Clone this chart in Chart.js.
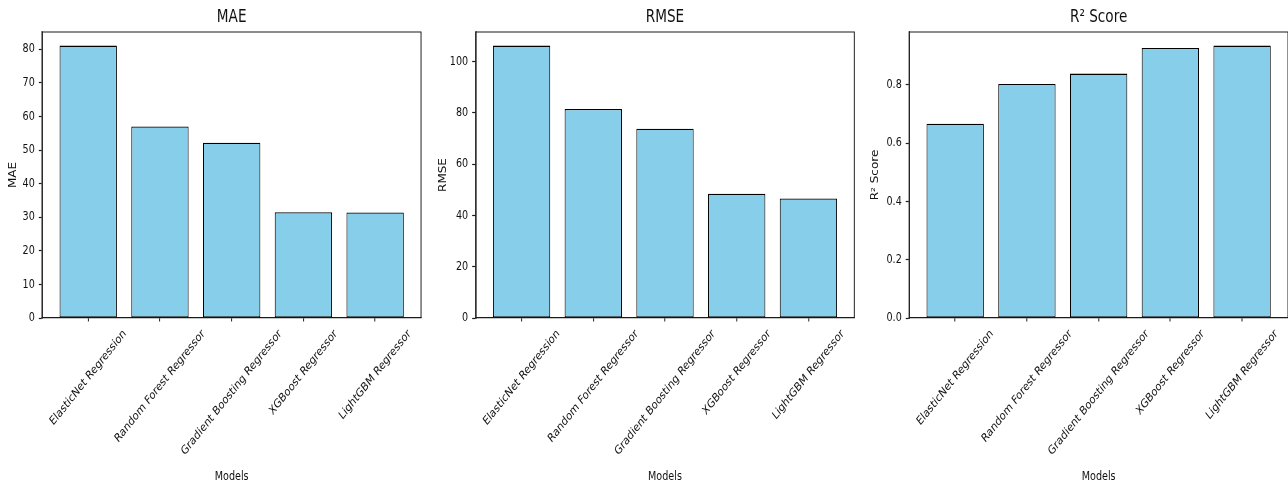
<!DOCTYPE html>
<html>
<head>
<meta charset="utf-8">
<script src="https://cdn.jsdelivr.net/npm/chart.js@4.4.1/dist/chart.umd.min.js"></script>
<style>
	html, body { margin: 0; padding: 0; background: #fff; overflow: hidden; width: 1288px; height: 486px; }
	canvas { position: absolute; top: 0; }
</style>
</head>
<body>
<!-- each chart lays out on a 540px wide logical canvas and is drawn squeezed into 432px, like the reference -->
<canvas id="c_mae" width="540" height="486" style="left:0px;width:432px;height:486px"></canvas>
<canvas id="c_rmse" width="540" height="486" style="left:430px;width:432px;height:486px"></canvas>
<canvas id="c_r2" width="540" height="486" style="left:860px;width:432px;height:486px"></canvas>
<script>

const models = [ "ElasticNet Regression", "Random Forest Regressor", "Gradient Boosting Regressor", "XGBoost Regressor", "LightGBM Regressor" ]
const maeValues = [ 81.1, 57.0, 52.2, 31.5, 31.4 ]
const rmseValues = [ 106.2, 81.5, 73.8, 48.4, 46.6 ]
const r2Values = [ 0.667, 0.803, 0.839, 0.927, 0.935 ]
const maeTicks = [ 0, 10, 20, 30, 40, 50, 60, 70, 80 ]
const rmseTicks = [ 0, 20, 40, 60, 80, 100 ]
const r2Ticks = [ 0, 0.2, 0.4, 0.6, 0.8 ]

const FONT = "'DejaVu Sans', sans-serif"
const INK = "#111"
const EDGE = "#1a1a1a"
const LABEL_TOP = 327
const SQUEEZE = 0.8

// draw everything horizontally squeezed (the reference image is compressed sideways)
const squeeze = {
	id: "squeeze",
	afterInit ( chart ) {
		let c = chart.canvas
		c.width = Math.round( chart.width * SQUEEZE )
		c.height = chart.height
		chart.ctx.setTransform( SQUEEZE, 0, 0, 1, 0, 0 )
	}
}

// top/right spines plus the rotated model names (centred on the tick, like matplotlib)
const spinesAndLabels = {
	id: "spinesAndLabels",
	afterDraw ( chart ) {
		let ctx = chart.ctx
		let a = chart.chartArea
		let x = chart.scales.x
		ctx.save()
		ctx.strokeStyle = EDGE
		ctx.lineWidth = 1.2
		ctx.beginPath()
		ctx.moveTo( a.left, a.bottom )
		ctx.lineTo( a.left, a.top )
		ctx.lineTo( a.right, a.top )
		ctx.lineTo( a.right, a.bottom )
		ctx.stroke()

		ctx.font = "12px " + FONT
		ctx.fillStyle = INK
		ctx.textAlign = "center"
		ctx.textBaseline = "middle"
		let ang = Math.PI / 4
		let h = 12 * 1.17
		models.forEach( function ( name, i ) {
			let w = ctx.measureText( name ).width
			let boxH = w * Math.sin( ang ) + h * Math.cos( ang )
			ctx.save()
			ctx.translate( x.getPixelForValue( i ), LABEL_TOP + boxH / 2 )
			ctx.rotate( -ang )
			ctx.fillText( name, 0, 0 )
			ctx.restore()
		} )
		ctx.restore()
	}
}

function makePanel ( canvasId, title, values, yTicks, tickFormat, plotLeft, padRight, yTitlePad ) {
	let ymax = Math.max.apply( null, values ) * 1.05
	let points = values.map( ( v, i ) => ( { x: i, y: v } ) )

	return new Chart( document.getElementById( canvasId ), {
		type: "bar",
		data: {
			datasets: [ {
				data: points,
				backgroundColor: "#87ceeb",
				borderColor: "#000",
				borderWidth: 1.3,
				borderSkipped: false,
				categoryPercentage: 1,
				barPercentage: 0.8
			} ]
		},
		options: {
			responsive: false,
			animation: false,
			events: [],
			layout: { padding: { left: 0, right: padRight, top: 0, bottom: 0 } },
			plugins: {
				legend: { display: false },
				tooltip: { enabled: false },
				title: {
					display: true,
					text: title,
					fullSize: false,
					color: INK,
					font: { family: FONT, size: 17, weight: "normal" },
					padding: { top: 7.3, bottom: 4.3 }
				}
			},
			scales: {
				x: {
					type: "linear",
					min: -0.64,
					max: 4.64,
					offset: false,
					afterBuildTicks: function ( s ) { s.ticks = models.map( ( m, i ) => ( { value: i } ) ) },
					afterFit: function ( s ) { s.height = 168 },
					ticks: { display: false },
					grid: { offset: false, drawOnChartArea: false, drawTicks: true, tickLength: 3.5, tickColor: EDGE, tickWidth: 1.2 },
					border: { display: true, color: EDGE, width: 1.2 },
					title: {
						display: true,
						text: "Models",
						color: INK,
						font: { family: FONT, size: 12 },
						padding: { top: 0, bottom: 2 }
					}
				},
				y: {
					min: 0,
					max: ymax,
					afterBuildTicks: function ( s ) { s.ticks = yTicks.map( v => ( { value: v } ) ) },
					afterFit: function ( s ) { s.width = plotLeft },
					ticks: { color: INK, font: { family: FONT, size: 12 }, padding: 5, callback: tickFormat },
					grid: { drawOnChartArea: false, drawTicks: true, tickLength: 4.4, tickColor: EDGE, tickWidth: 1.2 },
					border: { display: true, color: EDGE, width: 1.2 },
					title: {
						display: true,
						text: title,
						color: INK,
						font: { family: FONT, size: 12 },
						padding: { top: yTitlePad, bottom: 0 }
					}
				}
			}
		},
		plugins: [ squeeze, spinesAndLabels ]
	} )
}

makePanel( "c_mae", "MAE", maeValues, maeTicks, v => String( v ), 52.9, 13.7, 9.1 )
makePanel( "c_rmse", "RMSE", rmseValues, rmseTicks, v => String( v ), 57.1, 9.6, 9.1 )
makePanel( "c_r2", "R² Score", r2Values, r2Ticks, v => v.toFixed( 1 ), 61.6, 5, 12.5 )

</script>
</body>
</html>
